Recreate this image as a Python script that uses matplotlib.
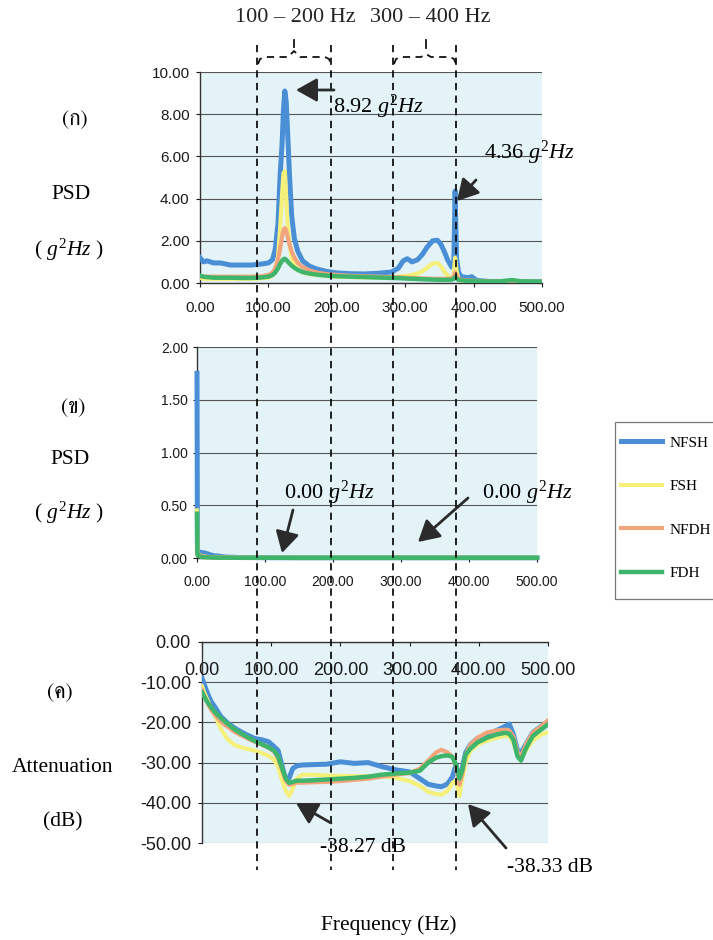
import matplotlib
matplotlib.use("Agg")
import matplotlib.pyplot as plt
import matplotlib.font_manager as fm
from matplotlib import ft2font
from matplotlib.lines import Line2D
from matplotlib.patches import FancyArrowPatch, Rectangle
from matplotlib.ticker import FixedLocator, FixedFormatter

# ---------------- data ----------------
series_names = ["NFSH", "FSH", "NFDH", "FDH"]
series_colors = ["#4a8fd6", "#f5f07a", "#f2a57c", "#3fb56c"]
series_widths = [3.6, 3.0, 3.0, 3.2]

# panel (ก)
freq_a = [0, 5, 10, 20, 30, 45, 60, 75, 90, 100,
          106, 110, 114, 117, 120, 122, 124, 126, 128, 131,
          134, 138, 143, 150, 160, 170, 185, 200, 220, 240,
          260, 280, 290, 297, 303, 310, 318, 325, 332, 340,
          347, 352, 357, 362, 368, 371, 373, 375, 378, 382,
          392, 397, 405, 420, 440, 456, 470, 500]
nfsh_a = [1.20, 1.00, 1.05, 0.95, 0.95, 0.85, 0.85, 0.85, 0.90, 0.95,
          1.10, 1.60, 2.80, 5.00, 6.60, 8.20, 9.10, 8.60, 7.20, 5.00,
          3.20, 2.10, 1.50, 1.05, 0.80, 0.67, 0.55, 0.48, 0.44, 0.43,
          0.46, 0.52, 0.70, 1.05, 1.15, 1.00, 1.10, 1.35, 1.70, 2.00,
          2.03, 1.85, 1.50, 1.10, 0.75, 0.90, 4.36, 1.20, 0.50, 0.30,
          0.25, 0.30, 0.12, 0.08, 0.05, 0.08, 0.05, 0.06]
fsh_a = [0.25, 0.20, 0.20, 0.20, 0.20, 0.20, 0.20, 0.20, 0.22, 0.25,
         0.35, 0.60, 1.20, 2.50, 4.20, 5.20, 5.30, 4.00, 2.80, 1.80,
         1.20, 0.85, 0.65, 0.50, 0.42, 0.38, 0.34, 0.30, 0.28, 0.27,
         0.27, 0.28, 0.30, 0.32, 0.35, 0.38, 0.45, 0.55, 0.72, 0.92,
         0.95, 0.80, 0.55, 0.35, 0.22, 0.40, 1.20, 0.60, 0.15, 0.10,
         0.08, 0.08, 0.06, 0.05, 0.05, 0.06, 0.04, 0.04]
nfdh_a = [0.30, 0.30, 0.30, 0.30, 0.30, 0.30, 0.30, 0.30, 0.32, 0.38,
          0.50, 0.70, 1.10, 1.60, 2.20, 2.50, 2.60, 2.50, 2.20, 1.80,
          1.50, 1.20, 0.95, 0.75, 0.60, 0.50, 0.42, 0.38, 0.34, 0.32,
          0.30, 0.28, 0.27, 0.26, 0.25, 0.24, 0.23, 0.22, 0.21, 0.20,
          0.20, 0.20, 0.20, 0.20, 0.22, 0.30, 0.50, 0.35, 0.20, 0.15,
          0.12, 0.12, 0.10, 0.08, 0.08, 0.10, 0.07, 0.06]
fdh_a = [0.35, 0.30, 0.28, 0.25, 0.25, 0.25, 0.24, 0.24, 0.26, 0.30,
         0.38, 0.50, 0.70, 0.90, 1.05, 1.12, 1.15, 1.10, 1.02, 0.92,
         0.82, 0.72, 0.62, 0.52, 0.45, 0.40, 0.35, 0.32, 0.30, 0.28,
         0.26, 0.24, 0.23, 0.22, 0.21, 0.20, 0.19, 0.18, 0.17, 0.16,
         0.15, 0.15, 0.15, 0.15, 0.16, 0.20, 0.28, 0.22, 0.15, 0.12,
         0.10, 0.10, 0.08, 0.07, 0.08, 0.14, 0.08, 0.06]

# panel (ข)
freq_b = [0, 0.6, 3, 6, 10, 15, 20, 25, 30, 40, 60, 100, 150, 200, 300, 400, 500]
nfsh_b = [1.75, 0.07, 0.06, 0.05, 0.05, 0.04, 0.03, 0.02, 0.02, 0.01, 0.005, 0.003, 0.002, 0.002, 0.002, 0.002, 0.002]
fsh_b = [0.45, 0.04, 0.03, 0.02, 0.015, 0.01, 0.008, 0.006, 0.005, 0.004, 0.003, 0.002, 0.002, 0.002, 0.002, 0.002, 0.002]
nfdh_b = [0.30, 0.04, 0.03, 0.02, 0.015, 0.01, 0.008, 0.006, 0.005, 0.004, 0.003, 0.002, 0.002, 0.002, 0.002, 0.002, 0.002]
fdh_b = [0.42, 0.03, 0.02, 0.01, 0.008, 0.006, 0.005, 0.004, 0.003, 0.003, 0.002, 0.002, 0.002, 0.002, 0.002, 0.002, 0.002]

# panel (ค): attenuation (dB)
freq_c = [0, 3, 8, 13, 18, 27, 36, 46, 56, 66,
          76, 86, 96, 104, 110, 116, 121, 126, 131, 137,
          145, 160, 180, 200, 220, 240, 260, 280, 300, 315,
          327, 338, 346, 355, 362, 367, 372, 376, 381, 388,
          398, 412, 426, 438, 444, 450, 456, 461, 468, 478,
          490, 500]
nfsh_c = [-9.0, -10.5, -12.8, -14.8, -16.0, -18.5, -20.0, -21.3, -22.3, -23.2,
          -24.0, -24.3, -24.8, -26.0, -27.0, -31.0, -34.3, -33.8, -31.5, -30.8,
          -30.6, -30.5, -30.4, -29.8, -30.2, -30.0, -31.0, -31.8, -32.3, -34.0,
          -35.4, -35.8, -36.0, -35.3, -33.5, -30.5, -34.5, -31.5, -27.5, -25.5,
          -24.0, -23.0, -22.0, -21.0, -20.4, -23.0, -27.0, -27.5, -25.5, -22.5,
          -21.0, -19.8]
fsh_c = [-11.0, -12.5, -14.5, -16.5, -18.0, -21.5, -24.0, -25.5, -26.2, -26.6,
         -27.0, -27.6, -28.3, -29.3, -31.0, -34.5, -37.0, -38.3, -36.5, -34.0,
         -33.0, -33.0, -33.2, -33.3, -33.4, -33.4, -33.3, -33.8, -34.6, -35.8,
         -37.3, -37.8, -38.0, -37.0, -35.0, -34.5, -38.3, -34.0, -30.0, -27.0,
         -25.5, -24.5, -23.8, -23.3, -23.5, -25.0, -28.0, -29.0, -27.0, -24.5,
         -23.0, -22.5]
nfdh_c = [-12.0, -13.3, -15.2, -16.8, -18.0, -19.8, -21.0, -22.2, -23.2, -24.0,
          -24.8, -25.5, -26.3, -27.2, -29.0, -32.0, -34.5, -35.5, -35.3, -35.0,
          -35.0, -34.9, -34.8, -34.6, -34.3, -34.0, -33.5, -33.0, -32.6, -31.5,
          -29.5, -27.5, -26.8, -27.5, -28.5, -31.0, -35.5, -33.0, -28.0, -25.5,
          -23.8, -22.5, -22.0, -21.8, -22.0, -23.5, -27.5, -28.5, -25.5, -22.5,
          -21.0, -19.5]
fdh_c = [-12.5, -13.5, -15.0, -16.2, -17.3, -18.9, -20.2, -21.6, -22.7, -23.7,
         -24.6, -25.4, -26.2, -27.0, -28.5, -31.5, -34.0, -35.0, -34.8, -34.5,
         -34.5, -34.4, -34.2, -34.0, -33.8, -33.5, -33.0, -32.7, -32.5, -32.0,
         -30.0, -28.8, -28.4, -28.2, -28.6, -30.5, -34.0, -32.0, -28.0, -26.5,
         -25.0, -23.8, -23.0, -22.6, -22.8, -24.3, -28.5, -29.5, -26.5, -23.4,
         -21.8, -20.5]

x_ticks = [0, 100, 200, 300, 400, 500]
y_ticks_a = [0, 2, 4, 6, 8, 10]
y_ticks_b = [0, 0.5, 1.0, 1.5, 2.0]
y_ticks_c = [-50, -40, -30, -20, -10, 0]

panel_labels = ["(ก)", "(ข)", "(ค)"]
band_labels = ["100 – 200 Hz", "300 – 400 Hz"]
peak_labels_a = ["8.92 $g^{2}Hz$", "4.36 $g^{2}Hz$"]
peak_labels_b = ["0.00 $g^{2}Hz$", "0.00 $g^{2}Hz$"]
peak_labels_c = ["-38.27 dB", "-38.33 dB"]

# ---------------- fonts ----------------
SERIF = "Liberation Serif"
SANS = "Liberation Sans"
plt.rcParams["font.family"] = [SERIF, "DejaVu Serif"]
plt.rcParams["mathtext.fontset"] = "custom"
plt.rcParams["mathtext.rm"] = SERIF
plt.rcParams["mathtext.it"] = SERIF + ":italic"
plt.rcParams["mathtext.bf"] = SERIF + ":bold"

thai_font = None
cands = []
for fe in fm.fontManager.ttflist:
    try:
        cm = ft2font.FT2Font(fe.fname).get_charmap()
        if 0x0E01 in cm and 0x0E04 in cm and 0x0E02 in cm:
            cands.append(fe)
    except Exception:
        pass
if cands:
    serif_c = [c for c in cands if "serif" in c.name.lower() and "sans" not in c.name.lower()]
    thai_font = (serif_c or cands)[0].name
thai_family = [thai_font, SERIF] if thai_font else [SERIF, "DejaVu Sans"]

# ---------------- figure ----------------
W, H = 713, 940
fig = plt.figure(figsize=(W / 100, H / 100), dpi=100)
fig.patch.set_facecolor("white")


def fx(px):
    return px / W


def fy(py):
    return 1 - py / H


def ax_rect(x0, y0, x1, y1):
    return [fx(x0), fy(y1), (x1 - x0) / W, (y1 - y0) / H]


BG = "#e3f3f8"
GRID = "#555555"


def style_axes(ax, yticks, tick_fs, ypad, xpad):
    ax.set_facecolor(BG)
    ax.set_xlim(0, 500)
    ax.xaxis.set_major_locator(FixedLocator(x_ticks))
    ax.xaxis.set_major_formatter(FixedFormatter([f"{v:.2f}" for v in x_ticks]))
    ax.yaxis.set_major_locator(FixedLocator(yticks))
    ax.yaxis.set_major_formatter(FixedFormatter([f"{v:.2f}" for v in yticks]))
    ax.set_ylim(yticks[0], yticks[-1])
    ax.grid(axis="y", color=GRID, lw=0.8)
    ax.set_axisbelow(True)
    for s in ["top", "right"]:
        ax.spines[s].set_visible(False)
    for s in ["left", "bottom"]:
        ax.spines[s].set_color("#333333")
        ax.spines[s].set_linewidth(1.0)
    ax.tick_params(axis="y", length=3, width=0.8, pad=ypad, labelsize=tick_fs,
                   colors="#1a1a1a", labelfontfamily=SANS)
    ax.tick_params(axis="x", length=3, width=0.8, pad=xpad, labelsize=tick_fs,
                   colors="#1a1a1a", labelfontfamily=SANS)


ax1 = fig.add_axes(ax_rect(200, 72, 542, 283))
ax2 = fig.add_axes(ax_rect(197, 347, 537, 558))
ax3 = fig.add_axes(ax_rect(202, 642, 548, 843))

data_a = [nfsh_a, fsh_a, nfdh_a, fdh_a]
data_b = [nfsh_b, fsh_b, nfdh_b, fdh_b]
data_c = [nfsh_c, fsh_c, nfdh_c, fdh_c]

handles = []
for i in range(4):
    h, = ax1.plot(freq_a, data_a[i], color=series_colors[i], lw=series_widths[i],
                  solid_joinstyle="round", label=series_names[i], zorder=3 + i)
    handles.append(h)
    ax2.plot(freq_b, data_b[i], color=series_colors[i], lw=series_widths[i],
             solid_joinstyle="round", zorder=3 + i, clip_on=False)
    ax3.plot(freq_c, data_c[i], color=series_colors[i], lw=series_widths[i],
             solid_joinstyle="round", zorder=3 + i)

ax3.spines["bottom"].set_position(("data", 0))
style_axes(ax1, y_ticks_a, 11, 4.5, 10)
style_axes(ax2, y_ticks_b, 10, 3.5, 9.5)
style_axes(ax3, y_ticks_c, 13, 5, 11.5)

# ---------------- text labels ----------------
lab_fs = 15.5
fig.text(fx(75), fy(120), panel_labels[0], family=thai_family, fontsize=lab_fs, ha="center", va="center")
fig.text(fx(71), fy(195), "PSD", fontsize=lab_fs, ha="center", va="center")
fig.text(fx(69), fy(250), "( $\\mathit{g}^{2}\\mathit{Hz}$ )", fontsize=lab_fs, ha="center", va="center")

fig.text(fx(73), fy(408), panel_labels[1], family=thai_family, fontsize=lab_fs, ha="center", va="center")
fig.text(fx(70), fy(460), "PSD", fontsize=lab_fs, ha="center", va="center")
fig.text(fx(69), fy(513), "( $\\mathit{g}^{2}\\mathit{Hz}$ )", fontsize=lab_fs, ha="center", va="center")

fig.text(fx(60), fy(693), panel_labels[2], family=thai_family, fontsize=lab_fs, ha="center", va="center")
fig.text(fx(63), fy(768), "Attenuation", fontsize=lab_fs, ha="center", va="center")
fig.text(fx(63), fy(822), "(dB)", fontsize=lab_fs, ha="center", va="center")

fig.text(fx(389), fy(925), "Frequency (Hz)", fontsize=lab_fs, ha="center", va="center")

fig.text(fx(295), fy(17), band_labels[0], fontsize=16, ha="center", va="center", color="#222222")
fig.text(fx(430), fy(17), band_labels[1], fontsize=16, ha="center", va="center", color="#222222")

# ---------------- dashed guide lines ----------------
dash = (4, 3)
for xv in [257, 331, 393, 456]:
    fig.add_artist(Line2D([fx(xv), fx(xv)], [fy(45), fy(870)], transform=fig.transFigure,
                          color="#111111", lw=1.3, dashes=dash, zorder=20))

br1 = [(258, 64), (260, 59), (265, 57), (288, 57), (294, 51), (300, 57), (325, 57), (329, 59), (331, 64)]
br2 = [(394, 64), (396, 59), (401, 57), (421, 57), (426, 54), (431, 57), (450, 57), (454, 59), (456, 64)]
for br in (br1, br2):
    fig.add_artist(Line2D([fx(p[0]) for p in br], [fy(p[1]) for p in br], transform=fig.transFigure,
                          color="#111111", lw=1.3, dashes=dash, zorder=20))
fig.add_artist(Line2D([fx(294), fx(294)], [fy(40), fy(47)], transform=fig.transFigure, color="#111111", lw=1.3, zorder=20))
fig.add_artist(Line2D([fx(426), fx(426)], [fy(40), fy(48)], transform=fig.transFigure, color="#111111", lw=1.3, zorder=20))

# ---------------- arrows + value labels ----------------
def arrow(p0, p1):
    a = FancyArrowPatch((fx(p0[0]), fy(p0[1])), (fx(p1[0]), fy(p1[1])), transform=fig.transFigure,
                        arrowstyle="-|>,head_length=0.8,head_width=0.45", mutation_scale=16,
                        lw=2, color="#2b2b2b", zorder=25, shrinkA=0, shrinkB=0)
    fig.add_artist(a)


arrow((334, 90), (296, 90))
arrow((476, 180), (457, 201))
arrow((293, 510), (282, 553))
arrow((468, 498), (418, 542))
arrow((331, 823), (296, 803))
arrow((506, 848), (468, 804))

val_fs = 16
fig.text(fx(333), fy(107), peak_labels_a[0], fontsize=val_fs, ha="left", va="center", zorder=30)
fig.text(fx(484), fy(153), peak_labels_a[1], fontsize=val_fs, ha="left", va="center", zorder=30)
fig.text(fx(284), fy(493), peak_labels_b[0], fontsize=val_fs, ha="left", va="center", zorder=30)
fig.text(fx(482), fy(493), peak_labels_b[1], fontsize=val_fs, ha="left", va="center", zorder=30)
fig.text(fx(320), fy(847), peak_labels_c[0], fontsize=15.5, ha="left", va="center", zorder=30)
fig.text(fx(507), fy(868), peak_labels_c[1], fontsize=15.5, ha="left", va="center", zorder=30)

# ---------------- legend ----------------
fig.add_artist(Rectangle((fx(615), fy(599)), (720 - 615) / W, (599 - 422) / H, transform=fig.transFigure,
                         facecolor="white", edgecolor="#777777", lw=0.9, zorder=1))
leg = fig.legend(handles, series_names, loc="upper left", bbox_to_anchor=(fx(621), fy(436)),
                 frameon=False, borderpad=0, borderaxespad=0, handlelength=2.7, handletextpad=0.45,
                 labelspacing=1.95, fontsize=11)
for t in leg.get_texts():
    t.set_family(SERIF)

fig.savefig("out.png", dpi=100)
